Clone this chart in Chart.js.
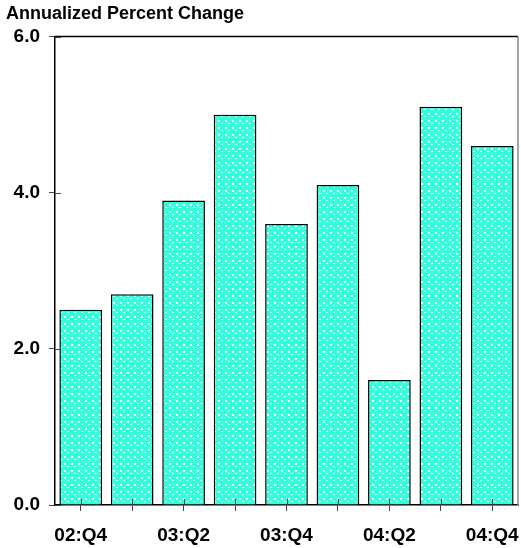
<!DOCTYPE html>
<html>
<head>
<meta charset="utf-8">
<script src="https://cdn.jsdelivr.net/npm/chart.js@4"></script>
<style>
  body { margin: 0; background: #fff; }
  #wrap { width: 521px; height: 548px; }
</style>
</head>
<body>
<div id="wrap"><canvas id="chart"></canvas></div>
<script>
// quarters along the x axis, only every other one gets a label
const quarters = ['02:Q4', '03:Q1', '03:Q2', '03:Q3', '03:Q4', '04:Q1', '04:Q2', '04:Q3', '04:Q4'];
const pctChange = [2.5, 2.7, 3.9, 5.0, 3.6, 4.1, 1.6, 5.1, 4.6];
const yMin = 0;
const yMax = 6;
const yStep = 2;

function makeDotPattern() {
    const c = document.createElement('canvas');
    c.width = 7;
    c.height = 7;
    const g = c.getContext('2d');
    g.fillStyle = '#33ffdc';
    g.fillRect(0, 0, 7, 7);
    g.fillStyle = '#ffffff';
    g.fillRect(1, 1, 2, 2);
    g.fillRect(4, 4, 2, 1);
    return g.createPattern(c, 'repeat');
}

// ticks that cross the axis line + top/right frame
const frameAndTicks = {
    id: 'frameAndTicks',
    afterDraw(chart) {
        const ctx = chart.ctx;
        const area = chart.chartArea;
        const x = chart.scales.x;
        const y = chart.scales.y;
        ctx.save();
        ctx.lineWidth = 1.5;
        ctx.strokeStyle = '#000';
        ctx.beginPath();
        ctx.moveTo(area.left, area.top);
        ctx.lineTo(area.right, area.top);
        ctx.stroke();
        ctx.strokeStyle = '#888';
        ctx.beginPath();
        ctx.moveTo(area.right, area.top);
        ctx.lineTo(area.right, area.bottom);
        ctx.stroke();

        ctx.strokeStyle = '#444';
        ctx.lineWidth = 1;
        y.ticks.forEach((t, i) => {
            const py = Math.round(y.getPixelForTick(i)) + 0.5;
            ctx.beginPath();
            ctx.moveTo(area.left, py);
            ctx.lineTo(area.left + 6, py);
            ctx.stroke();
        });
        x.ticks.forEach((t, i) => {
            const px = Math.round(x.getPixelForTick(i)) + 0.5;
            ctx.beginPath();
            ctx.moveTo(px, area.bottom);
            ctx.lineTo(px, area.bottom - 6);
            ctx.stroke();
        });
        ctx.restore();
    }
};

new Chart(document.getElementById('chart'), {
    type: 'bar',
    data: {
        labels: quarters,
        datasets: [{
            data: pctChange,
            backgroundColor: makeDotPattern(),
            borderColor: '#000',
            borderWidth: 1.5,
            barPercentage: 0.83,
            categoryPercentage: 1
        }]
    },
    options: {
        responsive: true,
        maintainAspectRatio: false,
        animation: false,
        layout: {
            padding: { left: 6, right: 3, top: 0, bottom: 0 }
        },
        plugins: {
            legend: { display: false },
            tooltip: { enabled: false },
            title: {
                display: true,
                text: 'Annualized Percent Change',
                align: 'start',
                color: '#000',
                font: { family: 'Liberation Sans, Arial, sans-serif', size: 18, weight: 'bold' },
                padding: { top: 3, bottom: 12 }
            }
        },
        scales: {
            x: {
                grid: {
                    drawOnChartArea: false,
                    offset: false,
                    tickLength: 6,
                    tickColor: '#444'
                },
                border: { color: '#000', width: 1.5 },
                ticks: {
                    color: '#000',
                    padding: 13,
                    maxRotation: 0,
                    autoSkip: false,
                    font: { family: 'Liberation Sans, Arial, sans-serif', size: 19, weight: 'bold' },
                    callback: (v, i) => (i % 2 === 0 ? quarters[i] : '')
                },
                afterFit: s => {
                    s.height = 43;
                    s.paddingLeft = 0;
                    s.paddingRight = 0;
                }
            },
            y: {
                min: yMin,
                max: yMax,
                grid: {
                    drawOnChartArea: false,
                    tickLength: 6,
                    tickColor: '#444'
                },
                border: { color: '#000', width: 1.5 },
                ticks: {
                    stepSize: yStep,
                    color: '#000',
                    padding: 9,
                    font: { family: 'Liberation Sans, Arial, sans-serif', size: 19, weight: 'bold' },
                    callback: v => v.toFixed(1)
                },
                afterFit: s => {
                    s.width = 49;
                    s.paddingTop = 0;
                    s.paddingBottom = 0;
                }
            }
        }
    },
    plugins: [frameAndTicks]
});
</script>
</body>
</html>
